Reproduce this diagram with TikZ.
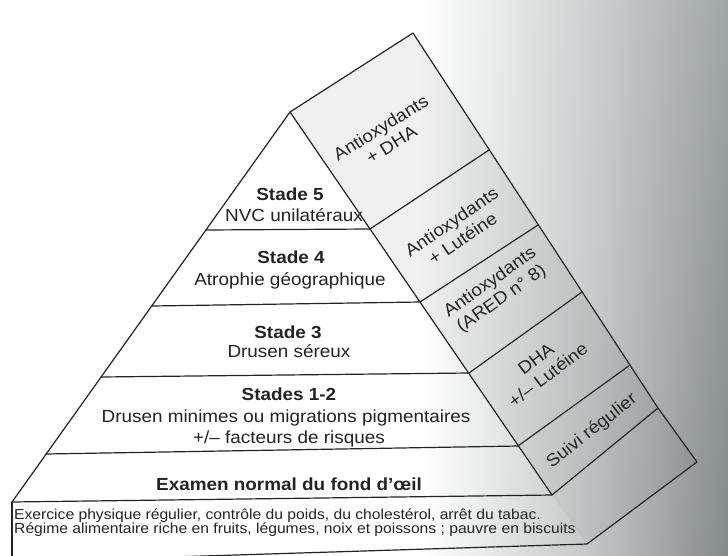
\documentclass[tikz,border=0pt]{standalone}
\usepackage{fontspec}
\setmainfont{Liberation Sans}[FakeStretch=1.08]
\usetikzlibrary{shadings}
\definecolor{ink}{RGB}{35,35,35}
\definecolor{gA}{RGB}{206,209,209}
\definecolor{gB}{RGB}{196,199,199}
\definecolor{gC}{RGB}{160,165,165}
\definecolor{gD}{RGB}{132,137,137}
\begin{document}
\begin{tikzpicture}[x=1pt,y=-1pt,
  edge/.style={draw=ink, line width=1.2pt, line join=round, line cap=round},
  boldtxt/.style={font=\fontsize{17.5}{21}\selectfont\bfseries, anchor=base, inner sep=0pt, text=ink},
  plaintxt/.style={font=\fontsize{17.5}{21}\selectfont, anchor=base, inner sep=0pt, text=ink},
  sidetxt/.style={font=\fontsize{17.5}{20}\selectfont, align=center, inner sep=0pt, text=ink},
  foottxt/.style={font=\fontsize{14.5}{14}\selectfont, anchor=base west, inner sep=0pt, text=ink}]
\useasboundingbox (0,0) rectangle (728,555);
\clip (0,0) rectangle (728,555);
% page background with scan shading
\fill[white] (0,0) rectangle (728,555);
\shade[upper left=white, lower left=white, upper right=gA, lower right=gB] (420,0) rectangle (590,555);
\shade[upper left=gA, lower left=gB, upper right=gC, lower right=gD] (590,0) rectangle (728,555);
% key points
\coordinate (A) at (290,112);
\coordinate (T) at (413,33);
\coordinate (BL) at (12,502);
\coordinate (BR) at (552,495);
\coordinate (L1) at (206,230); \coordinate (F1) at (370,229);
\coordinate (L2) at (152,306); \coordinate (F2) at (420,302);
\coordinate (L3) at (101,377); \coordinate (F3) at (469,373);
\coordinate (L4) at (46,454);  \coordinate (F4) at (518,446);
\coordinate (R1) at (489,150);
\coordinate (R2) at (538,225);
\coordinate (R3) at (582,292);
\coordinate (R4) at (630,365);
\coordinate (R5) at (658,408);
\coordinate (S1) at (697,462);
\coordinate (S2) at (587,544);
\coordinate (S3) at (12,562);
\coordinate (S4) at (12,562);
% side face tint
\fill[black, fill opacity=0.06] (A) -- (T) -- (R5) -- (BR) -- cycle;
\fill[black, fill opacity=0.04] (BR) -- (R5) -- (S1) -- (S2) -- cycle;
% outlines
\draw[edge] (BL) -- (A) -- (BR);
\draw[edge] (A) -- (T) -- (R5) -- (S1) -- (S2) -- (S3);
\draw[edge] (BL) -- (S4);
\draw[edge] (BL) -- (BR) -- (R5);
\draw[edge] (L1) -- (F1) -- (R1);
\draw[edge] (L2) -- (F2) -- (R2);
\draw[edge] (L3) -- (F3) -- (R3);
\draw[edge] (L4) -- (F4) -- (R4);
% front texts
\node[boldtxt]  (s5a) at (290,200) {Stade 5};
\node[plaintxt] (s5b) at (294,221) {NVC unilatéraux};
\node[boldtxt]  (s4a) at (291,263) {Stade 4};
\node[plaintxt] (s4b) at (290,285) {Atrophie géographique};
\node[boldtxt]  (s3a) at (288,338) {Stade 3};
\node[plaintxt] (s3b) at (289,357) {Drusen séreux};
\node[boldtxt]  (s1a) at (289,400) {Stades 1-2};
\node[plaintxt] (s1b) at (286,422) {Drusen minimes ou migrations pigmentaires};
\node[plaintxt] (s1c) at (289,443) {+/– facteurs de risques};
\node[boldtxt]  (s0)  at (289,490) {Examen normal du fond d’œil};
% side texts
\node[sidetxt, rotate=32] (t1) at (386,136) {Antioxydants\\+ DHA};
\node[sidetxt, rotate=34] (t2) at (457,230) {Antioxydants\\+ Lutéine};
\node[sidetxt, rotate=35] (t3) at (496,291) {Antioxydants\\(ARED n° 8)};
\node[sidetxt, rotate=37] (t4) at (542,367) {DHA\\+/– Lutéine};
\node[sidetxt, rotate=38] (t5) at (592,431) {Suivi régulier};
% base slab texts
\node[foottxt] (b1) at (14,519) {Exercice physique régulier, contrôle du poids, du cholestérol, arrêt du tabac.};
\node[foottxt] (b2) at (14,533) {Régime alimentaire riche en fruits, légumes, noix et poissons ; pauvre en biscuits};
\end{tikzpicture}
\end{document}
